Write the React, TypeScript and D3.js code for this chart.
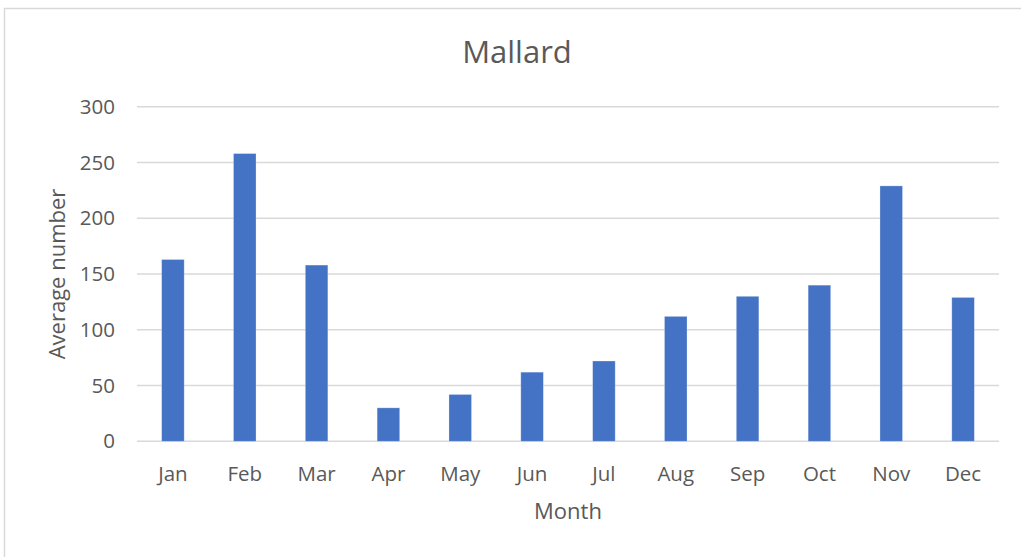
import React from "react";
import * as d3 from "d3";

const months = ["Jan", "Feb", "Mar", "Apr", "May", "Jun", "Jul", "Aug", "Sep", "Oct", "Nov", "Dec"];
const values = [163, 258, 158, 30, 42, 62, 72, 112, 130, 140, 229, 129];
const yTicks = [0, 50, 100, 150, 200, 250, 300];

const W = 1021;
const H = 557;
const FONT = "'Open Sans', 'Noto Sans', sans-serif";
const TXT = "#595959";

export default function App() {
  const x = d3.scaleBand<string>().domain(months).range([137, 999]).paddingInner(0.686).paddingOuter(0.343);
  const y = d3.scaleLinear().domain([0, 300]).range([441.3, 106.7]);

  return (
    <svg width={W} height={H} style={{ position: "absolute", left: 0, top: 0, background: "#fff" }}>
      <rect x={4.5} y={8.5} width={1100} height={700} fill="#fff" stroke="#d9d9d9" strokeWidth={1.5} />
      <text x={517} y={63} textAnchor="middle" fontFamily={FONT} fontSize={31} fill={TXT}>Mallard</text>
      {yTicks.map((t) => (
        <g key={t}>
          <line x1={137} x2={999} y1={y(t)} y2={y(t)} stroke="#d9d9d9" strokeWidth={1.5} />
          <text x={115} y={y(t)} dy="0.35em" textAnchor="end" fontFamily={FONT} fontSize={20.5} fill={TXT}>{t}</text>
        </g>
      ))}
      {months.map((m, i) => (
        <rect key={m} x={x(m)} y={y(values[i])} width={x.bandwidth()} height={y(0) - y(values[i])}
          fill="#4472C4" stroke="#ffffff" strokeOpacity={0.35} strokeWidth={0.8} />
      ))}
      {months.map((m) => (
        <text key={m} x={(x(m) as number) + x.bandwidth() / 2} y={481} textAnchor="middle" fontFamily={FONT} fontSize={20.5} fill={TXT}>{m}</text>
      ))}
      <text x={568} y={519} textAnchor="middle" fontFamily={FONT} fontSize={22} fill={TXT}>Month</text>
      <text transform={`translate(65,274) rotate(-90)`} textAnchor="middle" fontFamily={FONT} fontSize={22} fill={TXT}>Average number</text>
    </svg>
  );
}
